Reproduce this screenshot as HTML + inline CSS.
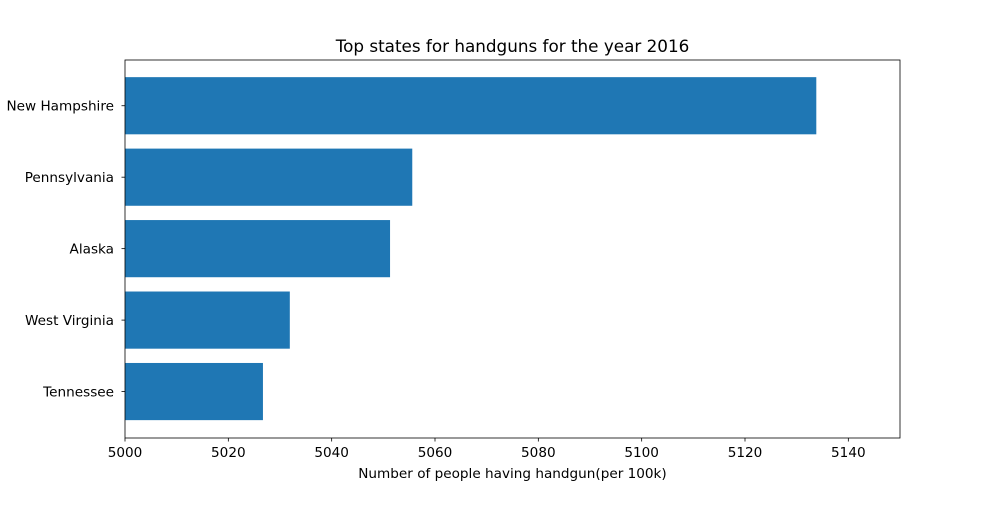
<!DOCTYPE html>
<html><head><meta charset="utf-8"><style>
body{margin:0;background:#fff;}
svg text{font-family:"DejaVu Sans","Liberation Sans",sans-serif;fill:#000;}
</style></head><body>
<svg id="chart" width="1000" height="500"></svg>
<script>
const categories=["New Hampshire","Pennsylvania","Alaska","West Virginia","Tennessee"];
const values=[5133.8,5055.6,5051.3,5031.9,5026.7];
const xTicks=[5000,5020,5040,5060,5080,5100,5120,5140];
const L=125,R=900,T=60,B=438,xmin=5000,xmax=5150;
const ns="http://www.w3.org/2000/svg";
const svg=document.getElementById('chart');
function x(v){return L+(v-xmin)/(xmax-xmin)*(R-L);}
const n=categories.length;
const u=(B-T)/(n-1+1.29);
function y(i){return T+u*(0.64+i);}
const bh=u*0.8;
function mk(tag,attrs,text){const e=document.createElementNS(ns,tag);for(const k in attrs)e.setAttribute(k,attrs[k]);if(text!==undefined)e.textContent=text;svg.appendChild(e);return e;}
categories.forEach((c,i)=>{
  const r=mk('rect',{x:x(xmin),y:y(i)-bh/2,width:x(values[i])-x(xmin),height:bh,fill:'#1f77b4'});
  
  
  const tk=mk('line',{x1:L-3.5,x2:L,y1:y(i),y2:y(i),stroke:'#000','stroke-width':0.8});
  
  
  const t=mk('text',{x:L-11,y:y(i)+5,'text-anchor':'end','font-size':13.6},c);
  
  
});
xTicks.forEach(v=>{
  const tk=mk('line',{x1:x(v),x2:x(v),y1:B,y2:B+3.5,stroke:'#000','stroke-width':0.8});
  
  
  const t=mk('text',{x:x(v),y:B+19,'text-anchor':'middle','font-size':13.6},v);
  
  
});
const fr=mk('rect',{x:L,y:T,width:R-L,height:B-T,fill:'none',stroke:'#000','stroke-width':0.8});


const ti=mk('text',{x:(L+R)/2,y:T-8,'text-anchor':'middle','font-size':16.8},'Top states for handguns for the year 2016');


const xl=mk('text',{x:(L+R)/2,y:B+40,'text-anchor':'middle','font-size':13.6},'Number of people having handgun(per 100k)');


</script>
</body></html>
